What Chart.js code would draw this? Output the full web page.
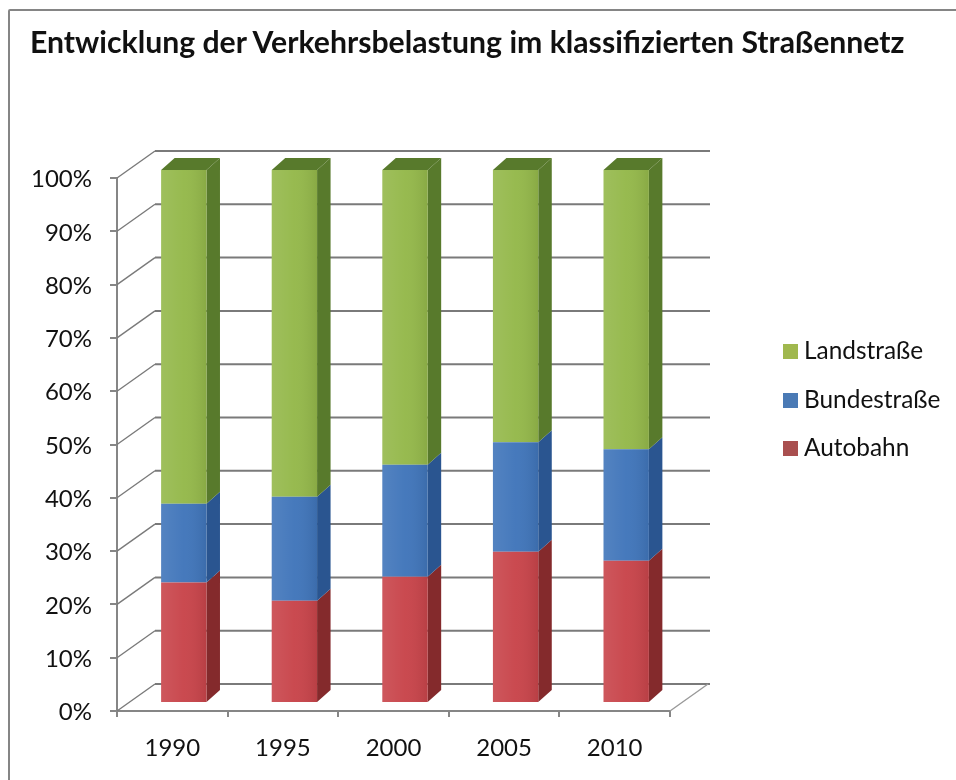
<!DOCTYPE html>
<html lang="de">

<head>
    <meta charset="utf-8" />
    <title>Entwicklung der Verkehrsbelastung</title>
    <script src="https://cdn.jsdelivr.net/npm/chart.js@4"></script>
    <style>
        html, body { margin: 0; padding: 0; background: #fff; }
        #wrap { position: relative; width: 956px; height: 780px; overflow: hidden; font-family: Lato, sans-serif; color: #111; }
        #frame { position: absolute; left: 8px; top: 9px; width: 960px; height: 800px; border: 2px solid #858585; border-radius: 2px; filter: blur(0.7px); }
        #title { position: absolute; left: 30px; top: 23px; font-size: 30.2px; font-weight: 700; white-space: nowrap; filter: blur(0.5px); }
        #chart { position: absolute; left: 0; top: 0; filter: blur(0.7px); }
        #legend { position: absolute; left: 783px; top: 333px; filter: blur(0.5px); }
        .item { height: 48.5px; font-size: 24.4px; line-height: 34px; white-space: nowrap; }
        .swatch { display: inline-block; width: 15px; height: 15px; margin-right: 6px; }
    </style>
</head>

<body>
    <div id="wrap">
        <div id="frame"></div>
        <canvas id="chart" width="956" height="780"></canvas>
        <div id="title">Entwicklung der Verkehrsbelastung im klassifizierten Straßennetz</div>
        <div id="legend"></div>
    </div>

    <script>
        const years = ['1990', '1995', '2000', '2005', '2010'];
        const autobahn = [22.6, 19.2, 23.7, 28.4, 26.7];
        const bundesstrasse = [14.8, 19.5, 21.0, 20.5, 20.9];
        const landstrasse = [62.6, 61.3, 55.3, 51.1, 52.4];

        const frontColors = ['#c8444a', '#4075ba', '#94b84a'];
        const sideColors = ['#842a2c', '#2a5590', '#587a2c'];
        const swatchColors = ['#a94f4f', '#4a7ab5', '#a0b84e'];

        // 3D look: back wall offset, bar offset from the front plane, bar depth
        const wall = { dx: 38, dy: -27 };
        const barShift = { dx: 11.5, dy: -8 };
        const barDepth = { dx: 13.5, dy: -12 };

        const box3d = {
            id: 'box3d',
            beforeDatasetsDraw(chart) {
                const { ctx, scales: { x, y } } = chart;
                ctx.save();
                ctx.strokeStyle = '#7a7a7a';
                y.ticks.forEach(t => {
                    const py = y.getPixelForValue(t.value);
                    ctx.lineWidth = 1.4;
                    ctx.beginPath();
                    ctx.moveTo(x.left, py);
                    ctx.lineTo(x.left + wall.dx, py + wall.dy);
                    ctx.stroke();
                    ctx.lineWidth = 2;
                    ctx.beginPath();
                    ctx.moveTo(x.left + wall.dx, py + wall.dy);
                    ctx.lineTo(x.right + wall.dx + 2, py + wall.dy);
                    ctx.stroke();
                });
                // right edge of the floor
                ctx.lineWidth = 1.4;
                ctx.strokeStyle = '#999';
                ctx.beginPath();
                ctx.moveTo(x.right, y.bottom);
                ctx.lineTo(x.right + wall.dx, y.bottom + wall.dy);
                ctx.stroke();
                ctx.restore();

                ctx.save();
                ctx.translate(barShift.dx, barShift.dy);
                chart.data.datasets.forEach((ds, i) => {
                    chart.getDatasetMeta(i).data.forEach(bar => {
                        const r = bar.x + bar.width / 2;
                        const l = bar.x - bar.width / 2;
                        ctx.fillStyle = sideColors[i];
                        ctx.beginPath();
                        ctx.moveTo(r, bar.base);
                        ctx.lineTo(r + barDepth.dx, bar.base + barDepth.dy);
                        ctx.lineTo(r + barDepth.dx, bar.y + barDepth.dy);
                        ctx.lineTo(r, bar.y);
                        ctx.closePath();
                        ctx.fill();
                        if (i === chart.data.datasets.length - 1) {
                            ctx.beginPath();
                            ctx.moveTo(l, bar.y);
                            ctx.lineTo(l + barDepth.dx, bar.y + barDepth.dy);
                            ctx.lineTo(r + barDepth.dx, bar.y + barDepth.dy);
                            ctx.lineTo(r, bar.y);
                            ctx.closePath();
                            ctx.fill();
                        }
                    });
                });
            },
            afterDatasetsDraw(chart) {
                const { ctx } = chart;
                chart.data.datasets.forEach((ds, i) => {
                    chart.getDatasetMeta(i).data.forEach(bar => {
                        const l = bar.x - bar.width / 2;
                        const g = ctx.createLinearGradient(l, 0, l + bar.width, 0);
                        g.addColorStop(0, 'rgba(255,255,255,0.10)');
                        g.addColorStop(0.5, 'rgba(255,255,255,0.03)');
                        g.addColorStop(1, 'rgba(0,0,0,0.08)');
                        ctx.fillStyle = g;
                        ctx.fillRect(l, bar.y, bar.width, bar.base - bar.y);
                    });
                });
                ctx.restore();
            }
        };

        new Chart(document.getElementById('chart'), {
            type: 'bar',
            data: {
                labels: years,
                datasets: [
                    { label: 'Autobahn', data: autobahn, backgroundColor: frontColors[0] },
                    { label: 'Bundestraße', data: bundesstrasse, backgroundColor: frontColors[1] },
                    { label: 'Landstraße', data: landstrasse, backgroundColor: frontColors[2] }
                ]
            },
            options: {
                responsive: false,
                animation: false,
                layout: { padding: { top: 178, right: 286, left: 0, bottom: 0 } },
                datasets: { bar: { barPercentage: 1, categoryPercentage: 0.41, clip: false } },
                plugins: { legend: { display: false }, title: { display: false }, tooltip: { enabled: false } },
                scales: {
                    x: {
                        stacked: true,
                        afterFit: s => { s.height = 69; },
                        border: { color: '#868686', width: 2 },
                        grid: { drawOnChartArea: false, drawTicks: true, tickLength: 6, color: '#868686', lineWidth: 2 },
                        ticks: { color: '#111', padding: 17, maxRotation: 0, font: { family: 'Lato', size: 24 } }
                    },
                    y: {
                        stacked: true,
                        min: 0,
                        max: 100,
                        afterFit: s => { s.width = 117; },
                        border: { color: '#868686', width: 2 },
                        grid: { drawOnChartArea: false, drawTicks: true, tickLength: 7, color: '#868686', lineWidth: 2 },
                        ticks: { stepSize: 10, color: '#111', padding: 18, labelOffset: 1.5, font: { family: 'Lato', size: 24 }, callback: v => v + '%' }
                    }
                }
            },
            plugins: [box3d]
        });

        // legend runs top to bottom in reverse stack order
        const legendEl = document.getElementById('legend');
        [[landstrasse, 'Landstraße', 2], [bundesstrasse, 'Bundestraße', 1], [autobahn, 'Autobahn', 0]].forEach(([, name, i]) => {
            const row = document.createElement('div');
            row.className = 'item';
            row.innerHTML = `<span class="swatch" style="background:${swatchColors[i]}"></span>${name}`;
            legendEl.appendChild(row);
        });
    </script>
</body>

</html>
